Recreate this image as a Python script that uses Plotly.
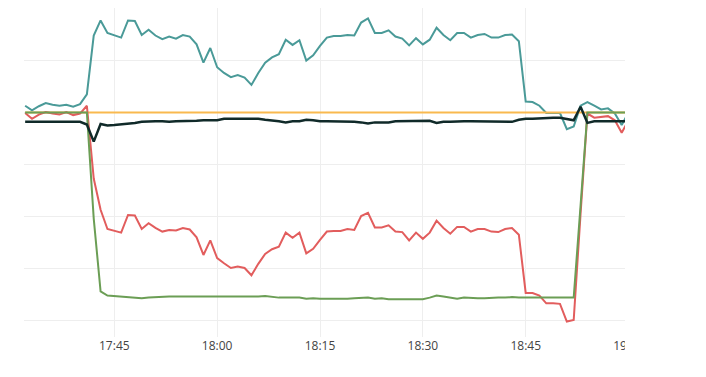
import pandas as pd
import plotly.graph_objects as go

# one sample per minute, 17:32 .. 19:00
times = pd.date_range("2024-01-01 17:32", "2024-01-01 19:00", freq="1min")

teal = [41.3, 40.4, 41.2, 41.8, 41.5, 41.3, 41.5, 41.1, 41.6, 43.5,
        54.8, 57.7, 55.3, 54.9, 54.4, 57.7, 57.6, 54.9, 55.9, 54.8,
        54.1, 54.6, 54.2, 54.9, 54.6, 53.1, 49.6, 52.4, 48.7, 47.6,
        46.8, 47.2, 46.7, 45.3, 47.6, 49.6, 50.6, 51.2, 54.0, 53.0,
        53.9, 50.0, 51.0, 52.8, 54.4, 54.7, 54.7, 54.9, 54.8, 57.3,
        58.1, 55.3, 55.3, 55.8, 54.6, 54.2, 52.9, 54.3, 53.1, 54.0,
        56.3, 54.9, 53.9, 55.3, 55.3, 54.4, 54.9, 55.1, 54.4, 54.4,
        54.9, 55.0, 53.7, 42.1, 42.0, 41.3, 39.9, 39.9, 39.9, 36.8,
        37.3, 41.3, 42.0, 41.3, 40.6, 40.8, 39.8, 37.6, 40.0]

red = [39.9, 38.8, 39.6, 40.1, 39.8, 39.6, 40.1, 39.5, 39.8, 41.3,
       27.3, 21.3, 17.6, 17.3, 16.9, 20.3, 20.2, 17.6, 18.7, 17.8,
       17.1, 17.4, 17.3, 17.8, 17.5, 16.0, 12.6, 15.4, 12.0, 11.0,
       10.1, 10.4, 10.1, 8.7, 10.9, 12.8, 13.7, 14.2, 16.9, 15.9,
       16.9, 12.9, 13.8, 15.5, 17.1, 17.2, 17.2, 17.6, 17.4, 20.1,
       20.7, 17.9, 17.9, 18.3, 17.1, 17.0, 15.4, 16.9, 15.7, 16.9,
       19.2, 17.8, 16.7, 18.0, 18.0, 17.1, 17.6, 17.6, 17.1, 17.0,
       17.6, 17.8, 16.5, 5.3, 5.3, 4.8, 3.3, 3.3, 3.2, -0.2,
       0.1, 20.5, 39.8, 39.0, 39.2, 39.3, 38.5, 36.1, 38.5]

green = [40.0, 40.0, 40.0, 40.0, 40.0, 40.0, 40.0, 40.0, 40.0, 40.0,
         19.6, 5.6, 4.8, 4.7, 4.6, 4.4, 4.3, 4.3, 4.4, 4.5,
         4.6, 4.6, 4.6, 4.6, 4.6, 4.5, 4.5, 4.5, 4.6, 4.6,
         4.5, 4.5, 4.5, 4.6, 4.6, 4.7, 4.5, 4.4, 4.4, 4.4,
         4.4, 4.2, 4.3, 4.2, 4.2, 4.1, 4.2, 4.2, 4.3, 4.3,
         4.4, 4.2, 4.3, 4.1, 4.1, 4.1, 4.1, 4.1, 4.1, 4.4,
         4.8, 4.6, 4.4, 4.2, 4.4, 4.3, 4.3, 4.3, 4.4, 4.4,
         4.4, 4.5, 4.4, 4.4, 4.4, 4.4, 4.4, 4.4, 4.4, 4.4,
         4.4, 22.1, 40.0, 40.0, 40.0, 40.0, 40.0, 40.0, 40.0]

black = [38.2, 38.2, 38.2, 38.2, 38.2, 38.2, 38.2, 38.2, 38.2, 37.7,
         34.4, 37.8, 37.5, 37.6, 37.7, 37.9, 38.0, 38.2, 38.3, 38.3,
         38.3, 38.2, 38.3, 38.3, 38.3, 38.4, 38.5, 38.5, 38.5, 38.8,
         38.8, 38.7, 38.8, 38.8, 38.8, 38.6, 38.5, 38.3, 38.1, 38.3,
         38.3, 38.6, 38.5, 38.3, 38.3, 38.3, 38.3, 38.3, 38.2, 38.1,
         37.9, 38.1, 38.1, 38.1, 38.3, 38.3, 38.3, 38.3, 38.4, 38.4,
         38.0, 38.2, 38.2, 38.3, 38.3, 38.3, 38.3, 38.2, 38.2, 38.2,
         38.2, 38.2, 38.6, 38.8, 38.8, 38.9, 39.0, 39.0, 39.0, 38.7,
         38.5, 41.1, 38.0, 38.3, 38.3, 38.3, 38.3, 38.3, 38.3]

limit_times = ["2024-01-01 17:32", "2024-01-01 19:00"]
limit_values = [40.0, 40.0]

fig = go.Figure()
fig.add_trace(go.Scatter(x=times, y=teal, mode="lines",
                         line=dict(color="#4a9a98", width=2)))
fig.add_trace(go.Scatter(x=limit_times, y=limit_values, mode="lines",
                         line=dict(color="#f9b94f", width=2)))
fig.add_trace(go.Scatter(x=times, y=red, mode="lines",
                         line=dict(color="#e25d5d", width=2)))
fig.add_trace(go.Scatter(x=times, y=green, mode="lines",
                         line=dict(color="#6b9e55", width=2)))
fig.add_trace(go.Scatter(x=times, y=black, mode="lines",
                         line=dict(color="#102a29", width=2.5)))

fig.update_layout(
    width=706, height=377,
    margin=dict(l=0, r=0, t=0, b=48),
    paper_bgcolor="white", plot_bgcolor="white",
    showlegend=False,
    font=dict(family="Open Sans, sans-serif", size=12, color="#444"),
    xaxis=dict(
        type="date",
        range=["2024-01-01 17:29:29.8", "2024-01-01 19:12:27.7"],
        dtick=900000, tick0="2024-01-01 17:30", tickformat="%H:%M",
        showgrid=True, gridcolor="#eeeeee", gridwidth=1,
        zeroline=False, showline=False, ticks="",
    ),
    yaxis=dict(
        range=[-3.173, 60.096],
        dtick=10, tick0=0,
        showgrid=True, gridcolor="#eeeeee", gridwidth=1,
        zeroline=False, showline=False, showticklabels=False, ticks="",
    ),
    shapes=[
        dict(type="rect", xref="paper", yref="paper", layer="above",
             x0=-0.01, x1=16 / 706, y0=-0.3, y1=1.05,
             fillcolor="white", line=dict(width=0)),
        dict(type="rect", xref="paper", yref="paper", layer="above",
             x0=617 / 706, x1=1.01, y0=-0.3, y1=1.05,
             fillcolor="white", line=dict(width=0)),
    ],
)

fig.write_html("out.html")
